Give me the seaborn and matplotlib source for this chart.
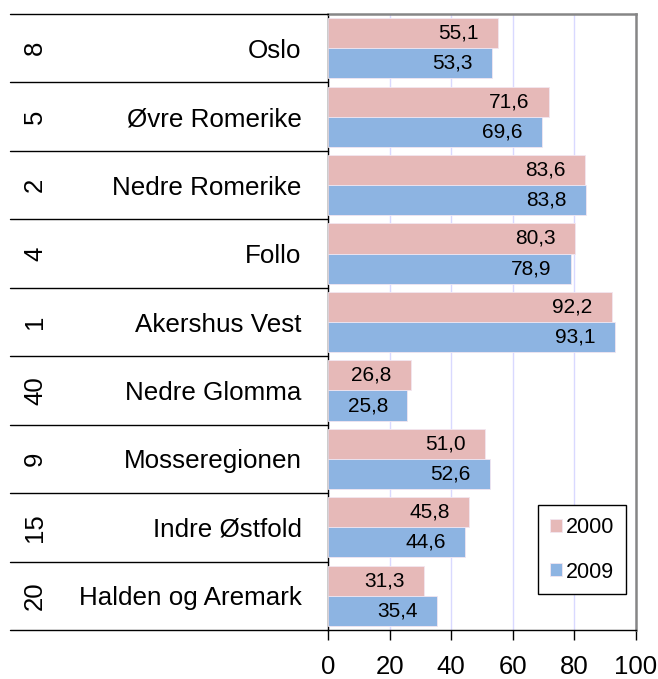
import matplotlib
matplotlib.use("Agg")
import matplotlib.pyplot as plt
import matplotlib.transforms as mtransforms
import seaborn as sns
import pandas as pd

# ---- data ----
regions = ["Oslo", "Øvre Romerike", "Nedre Romerike", "Follo", "Akershus Vest",
           "Nedre Glomma", "Mosseregionen", "Indre Østfold", "Halden og Aremark"]
ranks = ["8", "5", "2", "4", "1", "40", "9", "15", "20"]
years = ["2000", "2009"]
values_2000 = [55.1, 71.6, 83.6, 80.3, 92.2, 26.8, 51.0, 45.8, 31.3]
values_2009 = [53.3, 69.6, 83.8, 78.9, 93.1, 25.8, 52.6, 44.6, 35.4]
x_ticks = [0, 20, 40, 60, 80, 100]

df = pd.DataFrame({
    "region": regions * 2,
    "year": [years[0]] * len(regions) + [years[1]] * len(regions),
    "value": values_2000 + values_2009,
})

sns.set_theme(style="white")
plt.rcParams["font.family"] = ["Liberation Sans", "DejaVu Sans"]
plt.rcParams.update({
    "text.color": "black", "axes.labelcolor": "black",
    "xtick.color": "black", "ytick.color": "black",
    "xtick.bottom": True, "xtick.major.size": 7, "xtick.major.width": 1,
})

W, H = 658, 679
fig = plt.figure(figsize=(W / 100, H / 100), dpi=100)
ax = fig.add_axes([328 / W, 1 - 630 / H, (636 - 328) / W, (630 - 14) / H])

colors = ["#E6B9B8", "#8DB4E2"]
sns.barplot(data=df, y="region", x="value", hue="year", hue_order=years,
            order=regions, palette=colors, saturation=1, orient="h", width=0.88,
            edgecolor="#F2E6F0", linewidth=0.6, ax=ax, zorder=3)

ax.set_xlim(0, 100)
ax.set_ylim(len(regions) - 0.5, -0.5)
ax.set_xticks(x_ticks)
ax.set_xticklabels([str(t) for t in x_ticks], fontsize=18.5)
ax.tick_params(axis="x", direction="out", length=7, width=1, color="black",
               pad=11, bottom=True, labelcolor="black")
ax.set_yticks(range(len(regions)))
ax.set_yticklabels(regions, fontsize=18.7)
ax.tick_params(axis="y", length=0, pad=19, labelcolor="black")
ax.set_xlabel("")
ax.set_ylabel("")

ax.xaxis.grid(True, color="#D9D9FF", linewidth=1, zorder=0)
ax.yaxis.grid(False)
ax.set_axisbelow(True)

for s in ["top", "right"]:
    ax.spines[s].set_color("#868686")
    ax.spines[s].set_linewidth(1.8)
for s in ["left", "bottom"]:
    ax.spines[s].set_color("black")
    ax.spines[s].set_linewidth(1.0)

# bar value labels
for cont, vals in zip(ax.containers, [values_2000, values_2009]):
    labels = [f"{v:.1f}".replace(".", ",") for v in vals]
    texts = ax.bar_label(cont, labels=labels, padding=-14, fontsize=15,
                         color="black")
    for t in texts:
        t.set_ha("right")

# rank labels and separator lines
trans = mtransforms.blended_transform_factory(fig.transFigure, ax.transData)
for i, r in enumerate(ranks):
    ax.text(35 / W, i, r, transform=trans, rotation=90, ha="center",
            va="center", fontsize=18.5, color="black", clip_on=False)
for b in range(len(regions) + 1):
    y = b - 0.5
    ax.plot([10 / W, 328 / W], [y, y], transform=trans, color="black",
            linewidth=1.0, clip_on=False, zorder=5)

# legend
leg = ax.legend(loc="upper left", bbox_to_anchor=(538 / W, 1 - 505 / H),
                bbox_transform=fig.transFigure, fontsize=15.5, frameon=True,
                fancybox=False, framealpha=1, edgecolor="black",
                handlelength=0.55, handleheight=0.55, handletextpad=0.2,
                labelspacing=1.1, borderpad=0.55, borderaxespad=0)
leg.get_frame().set_linewidth(1.0)
leg.set_title(None)

fig.savefig("out.png", dpi=100)
